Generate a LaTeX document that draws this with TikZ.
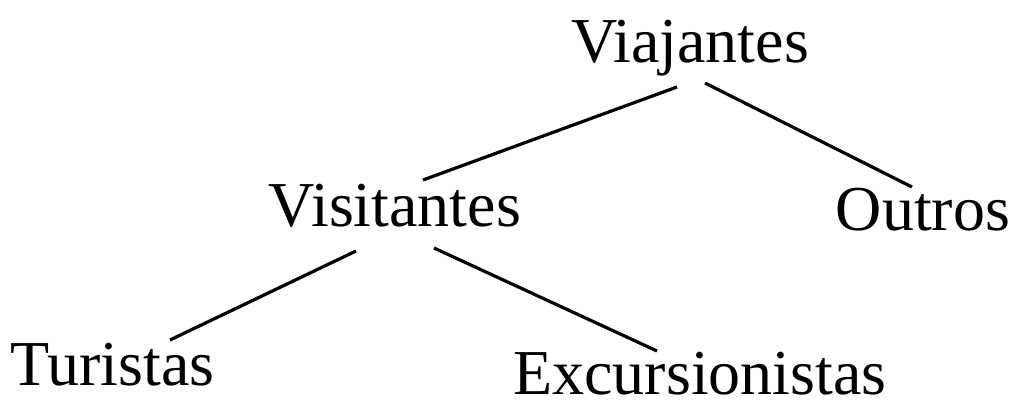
\documentclass[tikz,border=0pt]{standalone}
\usepackage{fontspec}
\setmainfont{Liberation Serif}
\usepackage{tikz}

\tikzset{
  lbl/.style={anchor=base, inner sep=0pt, font=\fontsize{64}{72}\selectfont},
  link/.style={line width=3.2pt}
}

\begin{document}
\begin{tikzpicture}[x=1pt,y=1pt]
\useasboundingbox (0,0) rectangle (1011,399);

% Text Node
\node [lbl] (viaj) at (690,336) {Viajantes};
% Text Node
\node [lbl] (visi) at (395,172) {Visitantes};
% Text Node
\node [lbl] (outr) at (923,168) {Outros};
% Text Node
\node [lbl] (turi) at (112.5,14) {Turistas};
% Text Node
\node [lbl] (excu) at (700,5) {Excursionistas};

\draw [link] ([shift={(-13,-24)}]viaj.base) -- ([shift={(28,47)}]visi.base);
\draw [link] ([shift={(15,-20)}]viaj.base) -- ([shift={(-11,44)}]outr.base);
\draw [link] ([shift={(-39,-24)}]visi.base) -- ([shift={(57.5,45)}]turi.base);
\draw [link] ([shift={(39,-21)}]visi.base) -- ([shift={(-43,43)}]excu.base);

\end{tikzpicture}
\end{document}
